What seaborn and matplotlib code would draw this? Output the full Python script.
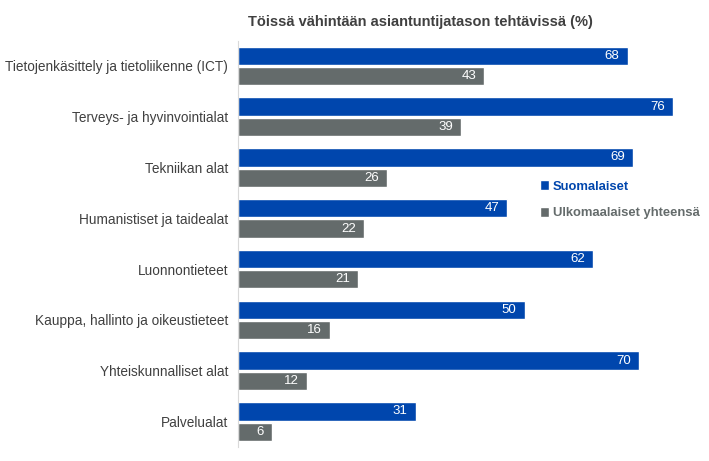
import pandas as pd
import matplotlib.pyplot as plt
import seaborn as sns

categories = [
    'Tietojenkäsittely ja tietoliikenne (ICT)',
    'Terveys- ja hyvinvointialat',
    'Tekniikan alat',
    'Humanistiset ja taidealat',
    'Luonnontieteet',
    'Kauppa, hallinto ja oikeustieteet',
    'Yhteiskunnalliset alat',
    'Palvelualat',
]
suomalaiset = [68, 76, 69, 47, 62, 50, 70, 31]
ulkomaalaiset = [43, 39, 26, 22, 21, 16, 12, 6]
series = ['Suomalaiset', 'Ulkomaalaiset yhteensä']
colors = ['#0046AD', '#646B6B']

df = pd.DataFrame({
    'ala': categories * 2,
    'arvo': suomalaiset + ulkomaalaiset,
    'ryhma': [series[0]] * len(categories) + [series[1]] * len(categories),
})

sns.set_style('white')
plt.rcParams['font.family'] = ['Liberation Sans', 'DejaVu Sans']

fig = plt.figure(figsize=(7.09, 4.61), dpi=100)
ax = fig.add_axes([0.3357, 0.0304, 0.6433, 0.8816])

sns.barplot(data=df, x='arvo', y='ala', hue='ryhma', orient='h',
            palette=colors, width=0.8, gap=0.1, ax=ax, saturation=1)

for cont in ax.containers:
    for p in cont:
        w = p.get_width()
        ax.annotate(f'{w:.0f}', (w, p.get_y() + p.get_height() / 2),
                    xytext=(-6, 0), textcoords='offset points',
                    ha='right', va='center', color='white', fontsize=9.5)

ax.set_xlim(0, 79.6)
ax.set_xlabel('')
ax.set_ylabel('')
ax.set_xticks([])
ax.tick_params(axis='y', length=0, labelsize=9.8, labelcolor='#404040', pad=7)
for s in ['top', 'right', 'bottom']:
    ax.spines[s].set_visible(False)
ax.spines['left'].set_color('#D9D9D9')

leg = ax.legend(loc='center left', bbox_to_anchor=(0.662, 0.608), frameon=False,
                handlelength=0.7, handleheight=0.8, handletextpad=0.3,
                labelspacing=1.05, borderaxespad=0, borderpad=0,
                prop={'weight': 'bold', 'size': 9.4})
for txt, c in zip(leg.get_texts(), colors):
    txt.set_color(c)

fig.text(0.593, 0.952, 'Töissä vähintään asiantuntijatason tehtävissä (%)',
         ha='center', va='center', fontsize=10.5, fontweight='bold', color='#404040')

fig.savefig('out.png', dpi=100)
